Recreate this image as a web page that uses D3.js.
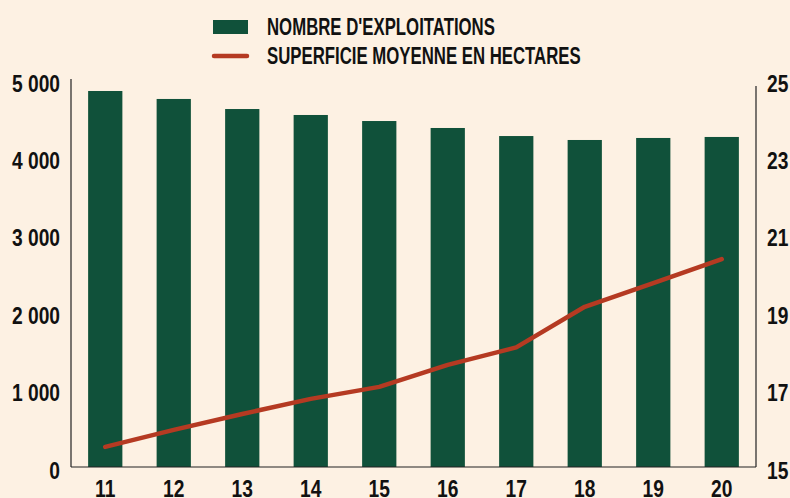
<!DOCTYPE html>
<html lang="fr">
  <head>
    <meta charset="UTF-8" />
    <title>Exploitations et superficie moyenne</title>
    <style>
      html, body { margin: 0; padding: 0; background: #fdf1e3; }
      svg { display: block; }
      text {
        font-family: 'Liberation Sans Narrow', 'Liberation Sans', sans-serif;
        font-weight: bold;
        fill: #111;
      }
    </style>
  </head>
  <body>
    <svg width="790" height="498"></svg>
    <script src="https://d3js.org/d3.v7.min.js"></script>
    <script>
      // data
      const years = ['11', '12', '13', '14', '15', '16', '17', '18', '19', '20'];
      const farms = [4858, 4755, 4625, 4548, 4470, 4380, 4276, 4225, 4251, 4264];
      const avgArea = [15.52, 15.96, 16.37, 16.76, 17.07, 17.64, 18.09, 19.14, 19.75, 20.37];
      const leftTicks = [0, 1000, 2000, 3000, 4000, 5000];
      const rightTicks = [15, 17, 19, 21, 23, 25];
      const legendLabels = ["NOMBRE D'EXPLOITATIONS", 'SUPERFICIE MOYENNE EN HECTARES'];

      const green = '#10513a',
        red = '#b53a22';

      const svg = d3.select('svg');
      const plotLeft = 71, plotRight = 756, plotBottom = 467, plotTop = 80;
      // the original typeface is a condensed gothic; squeeze the glyphs horizontally
      const tickSquash = 0.8, legendSquash = 0.685;

      const x = d3.scaleBand().domain(years).range([plotLeft, plotRight]).paddingInner(0.5).paddingOuter(0.25);
      const y = d3.scaleLinear().domain([0, 5000]).range([plotBottom, plotTop]);
      const y2 = d3.scaleLinear().domain([15, 25]).range([plotBottom, plotTop]);

      const fmt = (d) => d3.format(',')(d).replace(',', ' ');

      // bars
      svg.append('g')
        .selectAll('rect')
        .data(farms)
        .join('rect')
        .attr('x', (d, i) => x(years[i]))
        .attr('width', x.bandwidth())
        .attr('y', (d) => y(d))
        .attr('height', (d) => plotBottom - y(d))
        .attr('fill', green);

      // line
      const line = d3.line()
        .x((d, i) => x(years[i]) + x.bandwidth() / 2)
        .y((d) => y2(d));

      svg.append('path')
        .datum(avgArea)
        .attr('d', line)
        .attr('fill', 'none')
        .attr('stroke', red)
        .attr('stroke-width', 4.5)
        .attr('stroke-linecap', 'round')
        .attr('stroke-linejoin', 'round');

      // axes lines
      svg.append('line')
        .attr('x1', plotLeft).attr('x2', plotLeft)
        .attr('y1', plotTop - 1).attr('y2', plotBottom)
        .attr('stroke', '#222').attr('stroke-width', 1.2);
      svg.append('line')
        .attr('x1', plotRight).attr('x2', plotRight)
        .attr('y1', plotTop + 6).attr('y2', plotBottom)
        .attr('stroke', '#222').attr('stroke-width', 1.2);
      svg.append('line')
        .attr('x1', plotLeft).attr('x2', plotRight)
        .attr('y1', plotBottom).attr('y2', plotBottom)
        .attr('stroke', '#222').attr('stroke-width', 1.2);

      // tick labels
      svg.append('g')
        .selectAll('text')
        .data(leftTicks)
        .join('text')
        .attr('transform', (d) => `translate(${plotLeft - 11},${y(d) + 11.5}) scale(${tickSquash},1)`)
        .attr('text-anchor', 'end')
        .attr('font-size', 24)
        .text(fmt);

      svg.append('g')
        .selectAll('text')
        .data(rightTicks)
        .join('text')
        .attr('transform', (d) => `translate(${plotRight + 11},${y2(d) + 11.5}) scale(${tickSquash},1)`)
        .attr('text-anchor', 'start')
        .attr('font-size', 24)
        .text((d) => d);

      svg.append('g')
        .selectAll('text')
        .data(years)
        .join('text')
        .attr('transform', (d) => `translate(${x(d) + x.bandwidth() / 2},497) scale(${tickSquash},1)`)
        .attr('text-anchor', 'middle')
        .attr('font-size', 24)
        .text((d) => d);

      // legend
      const legend = svg.append('g');
      legend.append('rect')
        .attr('x', 213).attr('y', 20)
        .attr('width', 35).attr('height', 14)
        .attr('fill', green);
      legend.append('line')
        .attr('x1', 214).attr('x2', 247)
        .attr('y1', 56).attr('y2', 56)
        .attr('stroke', red)
        .attr('stroke-width', 4.5)
        .attr('stroke-linecap', 'round');

      legend.selectAll('text')
        .data(legendLabels)
        .join('text')
        .attr('transform', (d, i) => `translate(267,${34.5 + i * 29}) scale(${legendSquash},1)`)
        .attr('font-size', 24.5)
        .text((d) => d);
    </script>
  </body>
</html>
